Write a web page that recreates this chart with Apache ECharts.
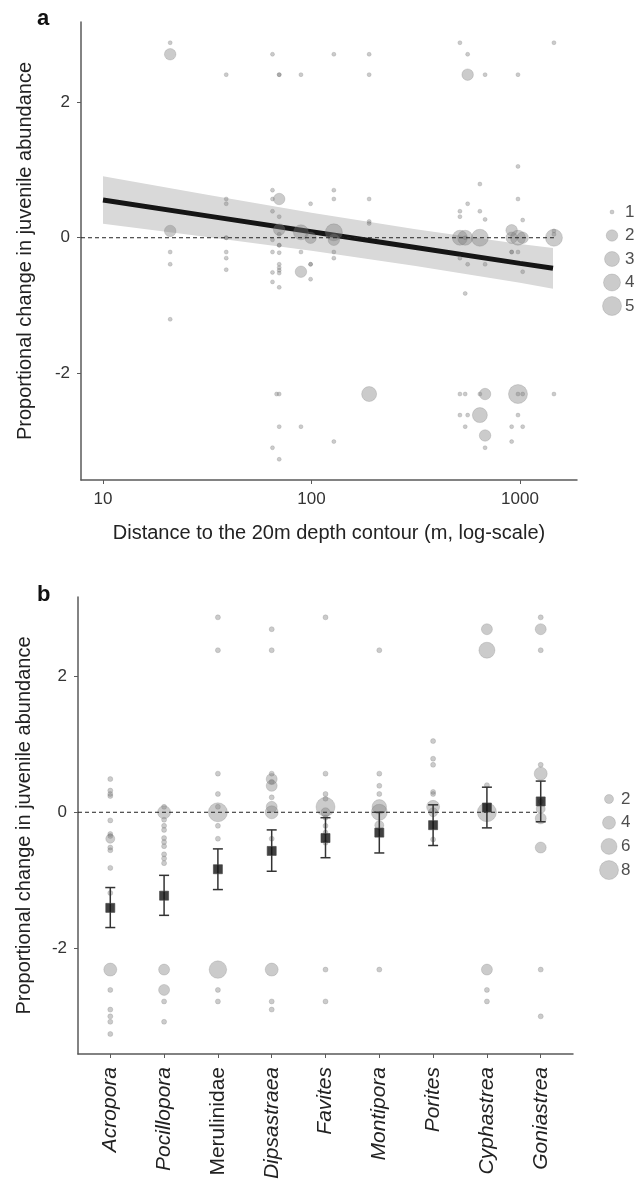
<!DOCTYPE html>
<html><head><meta charset="utf-8">
<script src="https://cdn.jsdelivr.net/npm/echarts@6/dist/echarts.min.js"></script>
<style>html,body{margin:0;padding:0;background:#fff}#c{width:644px;height:1180px}</style>
</head><body><div id="c"></div>
<script>
// ---------- Panel a data ----------
const aDist = [
  21,21,21,21,21,21,
  39,39,39,39,39,39,39,39,
  65,65,65,65,65,65,65,65,65,
  70,70,70,70,70,70,70,70,70,70,70,70,70,70,68,70,70,70,
  89,89,89,89,89,
  99,99,99,99,99,
  128,128,128,128,128,128,128,128,
  189,189,189,189,189,189,
  515,515,515,515,515,515,515,
  546,546,546,546,546,
  561,561,561,561,561,
  642,642,642,642,642,
  680,680,680,680,680,680,
  912,912,912,912,912,912,
  978,978,978,978,978,978,978,978,
  1030,1030,1030,1030,1030,
  1455,1455,1455,1455,1455
];
const aChange = [
  2.87,2.70,0.10,-0.21,-0.39,-1.20,
  2.40,0.57,0.50,0,0,-0.21,-0.30,-0.47,
  2.70,0.70,0.57,0.39,-0.03,-0.21,-0.51,-0.65,-3.09,
  2.40,2.40,0.57,0.31,0.12,0.05,-0.11,-0.11,-0.22,-0.39,-0.44,-0.48,-0.52,-0.73,-2.30,-2.30,-2.78,-3.26,
  2.40,0.08,-0.21,-0.50,-2.78,
  0.50,0,-0.39,-0.39,-0.61,
  2.70,0.70,0.57,0.08,-0.03,-0.21,-0.30,-3.00,
  2.70,2.40,0.57,0.24,0.21,-2.30,
  2.87,0.39,0.31,0,-0.30,-2.30,-2.61,
  0,0,-0.82,-2.30,-2.78,
  2.70,2.40,0.50,-0.39,-2.61,
  0.79,0.39,0,-2.30,-2.61,
  2.40,0.27,-0.39,-2.30,-2.91,-3.09,
  0.11,0,-0.21,-0.21,-2.78,-3.00,
  2.40,1.05,0.57,0,-0.21,-2.30,-2.30,-2.61,
  0.26,0,-0.50,-2.30,-2.78,
  2.87,0.10,0.05,0,-2.30
];
const aCount = [
  1,2,2,1,1,1,
  1,1,1,1,1,1,1,1,
  1,1,1,1,1,1,1,1,1,
  1,1,2,1,2,1,1,1,1,1,1,1,1,1,1,1,1,1,
  1,3,1,2,1,
  1,2,1,1,1,
  1,1,1,4,2,1,1,1,
  1,1,1,1,1,3,
  1,1,1,3,1,1,1,
  3,1,1,1,1,
  1,2,1,1,1,
  1,1,4,1,3,
  1,1,1,2,2,1,
  2,2,1,1,1,1,
  1,1,1,3,1,5,1,1,
  1,2,1,1,1,
  1,1,1,4,1
];
const aLegendLevels = [1, 2, 3, 4, 5];
const aTickLabels = [10, 100, 1000];
const yTickLabels = [-2, 0, 2];
// fitted line and confidence band
const fitDist  = [10, 31.6, 100, 316, 1000, 1440];
const fitValue = [0.555, 0.322, 0.089, -0.144, -0.377, -0.45];
const fitLower = [0.205, 0.012, -0.191, -0.414, -0.662, -0.75];
const fitUpper = [0.905, 0.632, 0.369, 0.126, -0.092, -0.15];

// ---------- Panel b data ----------
const categories = ['Acropora','Pocillopora','Merulinidae','Dipsastraea','Favites','Montipora','Porites','Cyphastrea','Goniastrea'];
const categoryIsGenus = [true,true,false,true,true,true,true,true,true];
const bMean = [-1.41, -1.23, -0.84, -0.57, -0.38, -0.30, -0.19, 0.07, 0.16];
const bLow  = [-1.70, -1.52, -1.14, -0.87, -0.67, -0.60, -0.49, -0.23, -0.14];
const bHigh = [-1.11, -0.93, -0.54, -0.26, -0.08, 0.00, 0.11, 0.37, 0.46];
const bCat = [
  0,0,0,0,0,0,0,0,0,0,0,0,0,0,0,0,0,0,
  1,1,1,1,1,1,1,1,1,1,1,1,1,1,1,
  2,2,2,2,2,2,2,2,2,2,2,
  3,3,3,3,3,3,3,3,3,3,3,3,3,
  4,4,4,4,4,4,4,4,4,4,4,4,
  5,5,5,5,5,5,5,5,
  6,6,6,6,6,6,6,6,
  7,7,7,7,7,7,7,
  8,8,8,8,8,8,8,8,8,8,8
];
const bChange = [
  0.49,0.32,0.27,0.24,-0.12,-0.32,-0.35,-0.39,-0.52,-0.56,-0.82,-1.19,-2.32,-2.62,-2.91,-3.01,-3.09,-3.27,
  0.08,0,-0.11,-0.20,-0.26,-0.38,-0.44,-0.50,-0.62,-0.68,-0.75,-2.32,-2.62,-2.79,-3.09,
  2.875,2.39,0.57,0.27,0.08,0,-0.20,-0.39,-2.32,-2.62,-2.79,
  2.70,2.39,0.57,0.49,0.45,0.39,0.22,0.08,0,-0.39,-2.32,-2.79,-2.91,
  2.875,0.57,0.27,0.20,0.08,0,-0.08,-0.20,-0.30,-0.45,-2.32,-2.79,
  2.39,0.57,0.39,0.27,0.08,0,-0.19,-2.32,
  1.05,0.79,0.70,0.30,0.27,0.08,0,-0.40,
  2.70,2.39,0.40,0,-2.32,-2.62,-2.79,
  2.875,2.70,2.39,0.70,0.57,0.16,0.05,-0.09,-0.52,-2.32,-3.01
];
const bCount = [
  1,1,1,1,1,1,1,2,1,1,1,1,4,1,1,1,1,1,
  1,4,1,1,1,1,1,1,1,1,1,3,3,1,1,
  1,1,1,1,1,8,1,1,7,1,1,
  1,1,1,3,1,3,1,3,4,1,4,1,1,
  1,1,1,1,8,2,1,1,1,1,1,1,
  1,1,1,1,5,6,2,1,
  1,1,1,1,1,4,2,1,
  3,6,1,8,3,1,1,
  1,3,1,1,4,1,2,3,3,1,1
];
const bLegendLevels = [2, 4, 6, 8];

// ---------- styling ----------
const aSizePx = [4, 11.5, 15, 17, 19];            // diameter for count 1..5
const bSizePx = [5, 9, 11, 13, 14.5, 16, 17.5, 19]; // diameter for count 1..8
const FONT = 'Liberation Sans, Arial, Helvetica, sans-serif';
const AXC = '#5a5a5a';
const PT = { color: 'rgba(125,125,125,0.5)', borderColor: 'rgba(110,110,110,0.35)', borderWidth: 0.8 };
const Y_MIN = -3.565, Y_MAX = 3.175;
const L10 = Math.log10;
const xMinA = 0.8945, xMaxA = 3.2734;

function yAxisCfg(gridIndex, gap) {
  return {
    gridIndex, type: 'value', min: Y_MIN, max: Y_MAX,
    name: 'Proportional change in juvenile abundance', nameLocation: 'middle', nameGap: gap,
    nameTextStyle: { fontSize: 20, color: '#222', fontFamily: FONT },
    axisLine: { show: true, onZero: false, lineStyle: { color: AXC, width: 1.5 } },
    axisTick: { show: true, length: 4, lineStyle: { color: AXC, width: 1 }, customValues: yTickLabels },
    axisLabel: { show: true, fontSize: 17, color: '#333', fontFamily: FONT, margin: 11, customValues: yTickLabels,
      formatter: v => String(Math.round(v)) },
    splitLine: { show: false }
  };
}

const option = {
  animation: false,
  backgroundColor: '#fff',
  textStyle: { fontFamily: FONT },
  grid: [
    { left: 81, top: 22, width: 496, height: 458, outerBoundsMode: 'none', containLabel: false },
    { left: 78, top: 597, width: 495, height: 457, outerBoundsMode: 'none', containLabel: false },
    { left: 600, top: 200.25, width: 24, height: 117.5, outerBoundsMode: 'none', containLabel: false },
    { left: 597, top: 787.2, width: 24, height: 94.7, outerBoundsMode: 'none', containLabel: false }
  ],
  xAxis: [
    { gridIndex: 0, type: 'value', min: xMinA, max: xMaxA,
      name: 'Distance to the 20m depth contour (m, log-scale)', nameLocation: 'middle', nameGap: 43,
      nameTextStyle: { fontSize: 20, color: '#222', fontFamily: FONT },
      axisLine: { show: true, onZero: false, lineStyle: { color: AXC, width: 1.5 } },
      axisTick: { show: true, length: 4, lineStyle: { color: AXC }, customValues: aTickLabels.map(L10) },
      axisLabel: { fontSize: 17, color: '#333', fontFamily: FONT, margin: 11, customValues: aTickLabels.map(L10),
        formatter: v => String(Math.round(Math.pow(10, v))) },
      splitLine: { show: false } },
    { gridIndex: 1, type: 'value', min: -0.6, max: 8.6,
      axisLine: { show: true, onZero: false, lineStyle: { color: AXC, width: 1.5 } },
      axisTick: { show: true, length: 4, lineStyle: { color: AXC }, customValues: categories.map((c, i) => i) },
      axisLabel: { rotate: 90, margin: 13, customValues: categories.map((c, i) => i),
        formatter: v => (categoryIsGenus[Math.round(v)] ? '{i|' : '{n|') + categories[Math.round(v)] + '}',
        rich: {
          i: { fontSize: 21, fontStyle: 'italic', color: '#222', fontFamily: FONT },
          n: { fontSize: 21, color: '#222', fontFamily: FONT }
        } },
      splitLine: { show: false } },
    { gridIndex: 2, type: 'value', min: 0, max: 1, show: false },
    { gridIndex: 3, type: 'value', min: 0, max: 1, show: false }
  ],
  yAxis: [
    yAxisCfg(0, 46),
    yAxisCfg(1, 44),
    { gridIndex: 2, type: 'value', min: 0.5, max: aLegendLevels.length + 0.5, inverse: true, show: false },
    { gridIndex: 3, type: 'value', min: 0.5, max: bLegendLevels.length + 0.5, inverse: true, show: false }
  ],
  graphic: [
    { type: 'text', left: 37, top: 8, style: { text: 'a', font: 'bold 22px ' + FONT, fill: '#111' } },
    { type: 'text', left: 37, top: 584, style: { text: 'b', font: 'bold 22px ' + FONT, fill: '#111' } }
  ],
  series: [
    // confidence band
    { type: 'custom', xAxisIndex: 0, yAxisIndex: 0, silent: true, z: 1,
      data: [[L10(fitDist[0]), fitLower[0]]],
      renderItem: (params, api) => {
        const up = fitDist.map((d, i) => api.coord([L10(d), fitUpper[i]]));
        const lo = fitDist.map((d, i) => api.coord([L10(d), fitLower[i]])).reverse();
        return { type: 'polygon', shape: { points: up.concat(lo) }, style: { fill: '#d9d9d9' } };
      } },
    // fitted line
    { type: 'line', xAxisIndex: 0, yAxisIndex: 0, silent: true, z: 2, symbol: 'none',
      data: fitDist.map((d, i) => [L10(d), fitValue[i]]),
      lineStyle: { color: '#151515', width: 5 } },
    // points a
    { type: 'scatter', xAxisIndex: 0, yAxisIndex: 0, silent: true, z: 3,
      data: aDist.map((d, i) => [L10(d), aChange[i], aCount[i]]),
      symbolSize: v => aSizePx[v[2] - 1], itemStyle: PT },
    // zero line a
    { type: 'line', xAxisIndex: 0, yAxisIndex: 0, silent: true, z: 4, symbol: 'none',
      data: [[xMinA, 0], [L10(Math.max(...aDist)), 0]],
      lineStyle: { color: '#222', width: 1, type: [4, 3] } },
    // legend a
    { type: 'scatter', xAxisIndex: 2, yAxisIndex: 2, silent: true,
      data: aLegendLevels.map((lv, i) => ({ value: [0.5, i + 1, lv], name: String(lv) })),
      symbolSize: v => aSizePx[v[2] - 1], itemStyle: PT,
      label: { show: true, position: 'inside', align: 'left', offset: [13, 0], formatter: p => p.name,
        fontSize: 17, color: '#222', fontFamily: FONT } },
    // points b
    { type: 'scatter', xAxisIndex: 1, yAxisIndex: 1, silent: true, z: 3,
      data: bCat.map((c, i) => [c, bChange[i], bCount[i]]),
      symbolSize: v => bSizePx[v[2] - 1], itemStyle: PT },
    // zero line b
    { type: 'line', xAxisIndex: 1, yAxisIndex: 1, silent: true, z: 4, symbol: 'none',
      data: [[-0.6, 0], [categories.length - 1, 0]],
      lineStyle: { color: '#222', width: 1, type: [4, 3] } },
    // error bars b
    { type: 'custom', xAxisIndex: 1, yAxisIndex: 1, silent: true, z: 5,
      data: bMean.map((m, i) => [i, bLow[i], bHigh[i]]),
      encode: { x: 0, y: [1, 2] },
      renderItem: (params, api) => {
        const x = api.value(0);
        const p1 = api.coord([x, api.value(1)]), p2 = api.coord([x, api.value(2)]);
        const w = 5, st = { stroke: '#333', lineWidth: 1.5 };
        return { type: 'group', children: [
          { type: 'line', shape: { x1: p1[0], y1: p1[1], x2: p2[0], y2: p2[1] }, style: st },
          { type: 'line', shape: { x1: p1[0] - w, y1: p1[1], x2: p1[0] + w, y2: p1[1] }, style: st },
          { type: 'line', shape: { x1: p2[0] - w, y1: p2[1], x2: p2[0] + w, y2: p2[1] }, style: st }
        ] };
      } },
    // means b
    { type: 'scatter', xAxisIndex: 1, yAxisIndex: 1, silent: true, z: 6, symbol: 'rect', symbolSize: 9,
      data: bMean.map((m, i) => [i, m]),
      itemStyle: { color: '#111', borderColor: '#444', borderWidth: 0.8 } },
    // legend b
    { type: 'scatter', xAxisIndex: 3, yAxisIndex: 3, silent: true,
      data: bLegendLevels.map((lv, i) => ({ value: [0.5, i + 1, lv], name: String(lv) })),
      symbolSize: v => bSizePx[v[2] - 1], itemStyle: PT,
      label: { show: true, position: 'inside', align: 'left', offset: [12, 0], formatter: p => p.name,
        fontSize: 17, color: '#222', fontFamily: FONT } }
  ]
};
const chart = echarts.init(document.getElementById('c'), null, { renderer: 'canvas' });
chart.setOption(option);
</script>
</body></html>
